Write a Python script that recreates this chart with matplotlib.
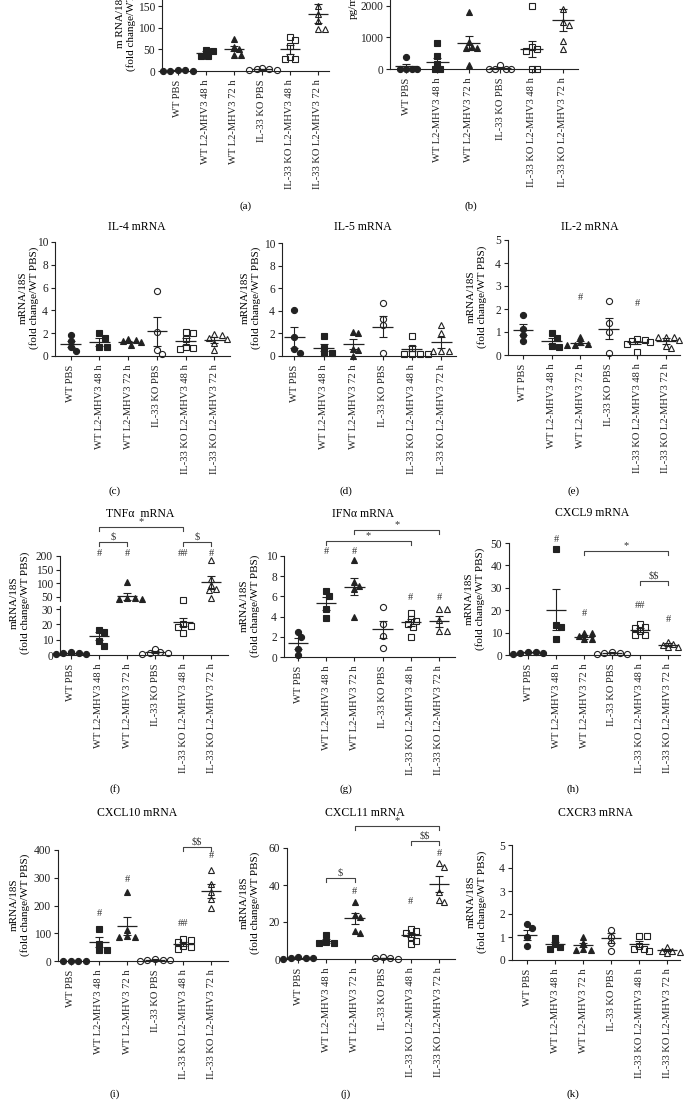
import numpy as np
import matplotlib.pyplot as plt
from matplotlib.transforms import blended_transform_factory as blend

plt.rcParams['font.family'] = ['Liberation Serif', 'DejaVu Serif']
plt.rcParams['font.size'] = 8
plt.rcParams['axes.linewidth'] = 0.8
plt.rcParams['text.parse_math'] = False

W, H = 692, 1120
fig = plt.figure(figsize=(W / 100, H / 100), dpi=100)

groups = ['WT PBS', 'WT L2-MHV3 48 h', 'WT L2-MHV3 72 h', 'IL-33 KO PBS',
          'IL-33 KO L2-MHV3 48 h', 'IL-33 KO L2-MHV3 72 h']
markers = ['o', 's', '^', 'o', 's', '^']
filled = [True, True, True, False, False, False]
LC = '#222222'
YLAB = 'mRNA/18S\n(fold change/WT PBS)'

# ---------------- data ----------------
il33_pts = [[3, 2, 1, 0.5, 0], [48, 47, 36, 35], [75, 55, 50, 38, 38],
            [8, 5, 3, 2, 4], [80, 73, 58, 32, 28, 28], [150, 132, 117, 97, 97]]
il33_mean = [1.2, 42, 52, 4, 50, 133]
il33_sem = [0.6, 4, 6, 1.2, 10, 22]

prot_pts = [[380, 0, 0, 0, 0], [810, 400, 150, 0, 0], [1810, 860, 700, 650, 650, 125],
            [130, 0, 0, 0, 0], [2000, 700, 620, 560, 0, 0], [1880, 1480, 1380, 870, 640]]
prot_mean = [80, 220, 810, 30, 640, 1540]
prot_sem = [75, 140, 220, 25, 260, 340]

il4_pts = [[1.8, 1.3, 0.8, 0.4], [2.0, 1.6, 0.8, 0.8], [1.45, 1.4, 1.3, 1.2, 1.0],
           [5.7, 2.1, 0.5, 0.2], [2.1, 2.0, 1.5, 0.8, 0.6, 0.7], [1.9, 1.8, 1.6, 1.5, 1.1, 0.5]]
il4_mean = [1.05, 1.25, 1.25, 2.15, 1.3, 1.4]
il4_sem = [0.3, 0.35, 0.1, 1.25, 0.3, 0.28]

il5_pts = [[4.1, 1.65, 0.6, 0.25], [1.75, 0.75, 0.25, 0.25], [2.1, 2.0, 0.6, 0.5, 0.0],
           [4.7, 3.3, 2.7, 0.3], [1.75, 0.75, 0.2, 0.2, 0.2, 0.2], [2.7, 2.0, 0.45, 0.45, 0.45]]
il5_mean = [1.65, 0.75, 1.05, 2.6, 0.65, 1.2]
il5_sem = [0.9, 0.35, 0.45, 0.9, 0.25, 0.45]

il2_pts = [[1.75, 1.15, 0.85, 0.6], [0.95, 0.75, 0.4, 0.35], [0.8, 0.55, 0.5, 0.45, 0.45],
           [2.35, 1.4, 1.0, 0.1], [0.7, 0.65, 0.6, 0.55, 0.5, 0.15], [0.8, 0.8, 0.8, 0.65, 0.3, 0.4]]
il2_mean = [1.1, 0.62, 0.53, 1.15, 0.55, 0.62]
il2_sem = [0.25, 0.13, 0.08, 0.45, 0.08, 0.12]

tnf_pts = [[2.0, 1.5, 1.2, 0.8, 0.5], [16.5, 15, 9, 6], [105, 47, 45, 43, 42],
           [4, 2, 1.5, 1, 0.5], [37, 20, 19, 18, 14.5], [185, 115, 95, 80, 75, 45]]
tnf_mean = [1.2, 12.5, 52, 2, 21.5, 103]
tnf_sem = [0.3, 2.5, 12, 0.6, 2.5, 25]

ifn_pts = [[2.5, 2.0, 0.8, 0.2], [6.5, 6.0, 4.8, 3.9], [9.6, 7.4, 7.0, 6.7, 4.0],
           [5.0, 3.3, 2.1, 0.9], [4.4, 3.8, 3.6, 3.3, 3.0, 2.0], [4.8, 4.8, 3.7, 2.6, 2.6]]
ifn_mean = [1.35, 5.3, 6.95, 2.75, 3.45, 3.55]
ifn_sem = [0.55, 0.6, 0.85, 0.85, 0.35, 0.55]

cxcl9_pts = [[1.5, 1.2, 1.0, 0.8, 0.5], [47.5, 13.5, 12.3, 7], [9.8, 9.8, 8.5, 7, 7],
             [1.5, 1.0, 0.8, 0.5, 0.6], [14, 12.5, 12, 10.5, 9, 9], [6, 5, 4.5, 3.5, 3.5]]
cxcl9_mean = [1.2, 20.3, 8.2, 1.0, 11.3, 4.5]
cxcl9_sem = [0.2, 9.2, 0.9, 0.2, 0.9, 0.7]

cxcl10_pts = [[0, 0, 0, 0], [115, 60, 40, 40], [250, 110, 90, 85, 85],
              [8, 5, 3, 2, 1], [80, 75, 70, 55, 50, 45], [328, 278, 248, 225, 192]]
cxcl10_mean = [0, 70, 125, 4, 62, 252]
cxcl10_sem = [0, 18, 32, 1.5, 7, 25]

cxcl11_pts = [[1, 0.8, 0.5, 0.3, 0.2], [13, 9, 8.5, 8.5], [31, 24, 22.5, 15, 14],
              [1, 0.5, 0.3, 0.2], [16, 15, 14, 12, 10, 8], [52, 50, 36, 32, 31]]
cxcl11_mean = [0.6, 9.8, 22, 0.5, 13, 40.5]
cxcl11_sem = [0.15, 1.2, 3, 0.15, 1.3, 4.5]

cxcr3_pts = [[1.55, 1.4, 1.0, 0.6], [0.95, 0.7, 0.55, 0.5], [1.0, 0.75, 0.5, 0.45, 0.45],
             [1.3, 1.0, 0.75, 0.4], [1.05, 1.05, 0.6, 0.5, 0.4, 0.5], [0.55, 0.4, 0.35, 0.3, 0.4]]
cxcr3_mean = [1.1, 0.7, 0.65, 0.95, 0.7, 0.42]
cxcr3_sem = [0.22, 0.1, 0.1, 0.22, 0.12, 0.05]


# ---------------- helpers ----------------
def fy(y):
    return 1 - y / H


def ftext(x, y, s, **kw):
    kw.setdefault('ha', 'center')
    kw.setdefault('va', 'center')
    fig.text(x / W, fy(y), s, **kw)


def new_ax(box, ylim, yticks, xlim, bottom=True):
    l, r, t, b = box
    ax = fig.add_axes([l / W, fy(b), (r - l) / W, (b - t) / H])
    ax.set_xlim(*xlim)
    ax.set_ylim(*ylim)
    ax.set_yticks(yticks)
    ax.patch.set_alpha(0)
    for s in ['top', 'right']:
        ax.spines[s].set_visible(False)
    for s in ['left', 'bottom']:
        ax.spines[s].set_color(LC)
    ax.tick_params(axis='y', length=3, width=0.8, labelsize=8.3, pad=2, colors=LC)
    if bottom:
        ax.set_xticks(range(6))
        ax.set_xticklabels(groups, rotation=90, fontsize=7.6)
        ax.tick_params(axis='x', length=3, width=0.8, pad=3, colors=LC)
    else:
        ax.spines['bottom'].set_visible(False)
        ax.set_xticks([])
    return ax


def swarm(vals, ypix, xs, d=5.3, step=0.09):
    order = np.argsort(vals)[::-1]
    placed = []
    offs = np.zeros(len(vals))
    for i in order:
        y = ypix(vals[i])
        k = 0
        while True:
            cands = [0.0] if k == 0 else [k * step, -k * step]
            hit = None
            for c in cands:
                if all(np.hypot((c - px) * xs, y - py) >= d for px, py in placed):
                    hit = c
                    break
            if hit is not None:
                offs[i] = hit
                placed.append((hit, y))
                break
            k += 1
    return offs


def draw_pts(ax, i, vals, offs):
    ax.plot(i + offs, vals, ls='none', marker=markers[i], ms=4.4 if markers[i] != '^' else 4.7,
            mfc=LC if filled[i] else 'none', mec=LC, mew=0.8, clip_on=False, zorder=3)


def draw_mean(ax, i, m, s):
    ax.hlines(m, i - 0.36, i + 0.36, color=LC, lw=0.9, zorder=4)
    ax.errorbar(i, m, yerr=s, fmt='none', ecolor=LC, elinewidth=0.8,
                capsize=3.2, capthick=0.8, zorder=4)


def panel(box, ylim, yticks, pts, mean, sem, xlim=(-0.55, 5.55)):
    ax = new_ax(box, ylim, yticks, xlim)
    l, r, t, b = box
    ypix = lambda v: b - (v - ylim[0]) / (ylim[1] - ylim[0]) * (b - t)
    xs = (r - l) / (xlim[1] - xlim[0])
    for i in range(6):
        draw_pts(ax, i, pts[i], swarm(pts[i], ypix, xs))
        draw_mean(ax, i, mean[i], sem[i])
    return ax


def bracket(ax, x1, x2, y, s):
    tr = blend(ax.transData, fig.transFigure)
    ax.plot([x1, x1, x2, x2], [fy(y + 4), fy(y), fy(y), fy(y + 4)], transform=tr,
            color='#444444', lw=0.8, clip_on=False)
    ax.text((x1 + x2) / 2, fy(y - 0.5), s, transform=tr, ha='center', va='bottom',
            fontsize=7.5, color='#333333', clip_on=False)


def mark(ax, x, y, s):
    tr = blend(ax.transData, fig.transFigure)
    ax.text(x, fy(y), s, transform=tr, ha='center', va='center', fontsize=7.5,
            color='#333333', clip_on=False)


def ylab(x, y, s=YLAB):
    ftext(x, y, s, rotation=90, fontsize=8, multialignment='center', linespacing=1.1)


# ---------------- row 1: (a), (b) ----------------
ax_a = panel((162, 329, 0, 71), (0, 165), [0, 50, 100, 150], il33_pts, il33_mean, il33_sem,
             xlim=(-0.57, 5.4))
ylab(126, 20, 'm RNA/18S\n(fold change/WT PBS)')
ax_b = panel((390, 578, 0, 69), (0, 2180), [0, 1000, 2000], prot_pts, prot_mean, prot_sem,
             xlim=(-0.51, 5.48))
ftext(353, 19, 'pg/mL', rotation=90, va='bottom', fontsize=8)
ftext(246, 206, '(a)')
ftext(471, 206, '(b)')

# ---------------- row 2: (c), (d), (e) ----------------
ax_c = panel((55, 230, 242, 356), (0, 10), range(0, 11, 2), il4_pts, il4_mean, il4_sem)
ax_d = panel((282, 456, 243, 356), (0, 10), range(0, 11, 2), il5_pts, il5_mean, il5_sem,
             xlim=(-0.42, 5.5))
ax_e = panel((508, 680, 240, 355), (0, 5), range(0, 6), il2_pts, il2_mean, il2_sem,
             xlim=(-0.52, 5.49))
mark(ax_e, 2, 298, '#')
mark(ax_e, 4, 303, '#')
for x, t in [(137, 'IL-4 mRNA'), (363, 'IL-5 mRNA'), (590, 'IL-2 mRNA')]:
    ftext(x, 227, t, fontsize=8.5)
ylab(29, 298)
ylab(251, 298)
ylab(477, 297)
ftext(115, 491, '(c)')
ftext(346, 491, '(d)')
ftext(574, 491, '(e)')

# ---------------- row 3: (f) broken axis, (g), (h) ----------------
f_top, f_low = (60, 228, 556, 601), (60, 228, 606, 655)
f_hi_lim, f_lo_lim = (35, 200), (0, 32)
ax_f1 = new_ax(f_top, f_hi_lim, [50, 100, 150, 200], (-0.39, 5.6), bottom=False)
ax_f2 = new_ax(f_low, f_lo_lim, [0, 10, 20, 30], (-0.39, 5.6))


def f_ypix(v):
    if v > 33:
        return f_top[3] - (v - 35) / 165 * (f_top[3] - f_top[2])
    return f_low[3] - v / 32 * (f_low[3] - f_low[2])


f_xs = (228 - 60) / 5.99
for i in range(6):
    vals = np.array(tnf_pts[i], dtype=float)
    offs = swarm(vals, f_ypix, f_xs)
    hi = vals > 33
    if hi.any():
        draw_pts(ax_f1, i, vals[hi], offs[hi])
    if (~hi).any():
        draw_pts(ax_f2, i, vals[~hi], offs[~hi])
    draw_mean(ax_f1 if tnf_mean[i] > 33 else ax_f2, i, tnf_mean[i], tnf_sem[i])
bracket(ax_f1, 1, 4, 527, '*')
bracket(ax_f1, 1, 2, 542, '$')
bracket(ax_f1, 4, 5, 542, '$')
for x, s in [(1, '#'), (2, '#'), (4, '##'), (5, '#')]:
    mark(ax_f1, x, 553, s)

ax_g = panel((284, 455, 556, 657), (0, 10), range(0, 11, 2), ifn_pts, ifn_mean, ifn_sem,
             xlim=(-0.5, 5.57))
bracket(ax_g, 2, 5, 530, '*')
bracket(ax_g, 1, 4, 541, '*')
for x, y in [(1, 552), (2, 552), (4, 597), (5, 597)]:
    mark(ax_g, x, y, '#')

ax_h = panel((509, 680, 543, 655), (0, 50), range(0, 51, 10), cxcl9_pts, cxcl9_mean, cxcl9_sem,
             xlim=(-0.68, 5.43))
bracket(ax_h, 2, 5, 551, '*')
bracket(ax_h, 4, 5, 581, '$$')
for x, y, s in [(1, 539, '#'), (2, 613, '#'), (4, 606, '##'), (5, 619, '#')]:
    mark(ax_h, x, y, s)

ftext(140, 514, 'TNF\u03b1  mRNA', fontsize=8.5)
ftext(363, 514, 'IFN\u03b1 mRNA', fontsize=8.5)
ftext(592, 513, 'CXCL9 mRNA', fontsize=8.5)
ylab(20, 603)
ylab(250, 606)
ylab(475, 599)
ftext(115, 789, '(f)')
ftext(346, 789, '(g)')
ftext(573, 789, '(h)')

# ---------------- row 4: (i), (j), (k) ----------------
ax_i = panel((58, 228, 850, 961), (0, 400), range(0, 401, 100), cxcl10_pts, cxcl10_mean,
             cxcl10_sem, xlim=(-0.46, 5.6))
bracket(ax_i, 4, 5, 847, '$$')
for x, y, s in [(1, 914, '#'), (2, 879, '#'), (4, 923, '##'), (5, 856, '#')]:
    mark(ax_i, x, y, s)

ax_j = panel((287, 455, 848, 959), (0, 60), range(0, 61, 20), cxcl11_pts, cxcl11_mean,
             cxcl11_sem, xlim=(-0.4, 5.57))
bracket(ax_j, 2, 5, 826, '*')
bracket(ax_j, 4, 5, 841, '$$')
bracket(ax_j, 1, 2, 878, '$')
for x, y in [(2, 892), (4, 901), (5, 853)]:
    mark(ax_j, x, y, '#')

ax_k = panel((512, 680, 845, 960), (0, 5), range(0, 6), cxcr3_pts, cxcr3_mean, cxcr3_sem,
             xlim=(-0.54, 5.46))

ftext(137, 813, 'CXCL10 mRNA', fontsize=8.5)
ftext(365, 813, 'CXCL11 mRNA', fontsize=8.5)
ftext(595, 813, 'CXCR3 mRNA', fontsize=8.5)
ylab(20, 905)
ylab(250, 903)
ylab(477, 902)
ftext(115, 1094, '(i)')
ftext(346, 1094, '(j)')
ftext(573, 1094, '(k)')

fig.savefig('out.png', dpi=100)
